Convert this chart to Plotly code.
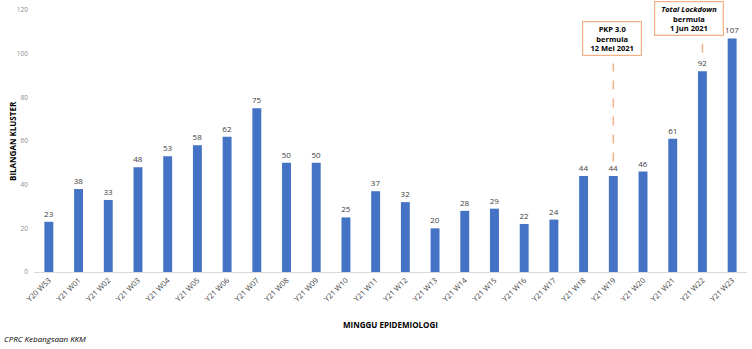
import plotly.graph_objects as go

weeks = ["Y20 W53", "Y21 W01", "Y21 W02", "Y21 W03", "Y21 W04", "Y21 W05", "Y21 W06",
         "Y21 W07", "Y21 W08", "Y21 W09", "Y21 W10", "Y21 W11", "Y21 W12", "Y21 W13",
         "Y21 W14", "Y21 W15", "Y21 W16", "Y21 W17", "Y21 W18", "Y21 W19", "Y21 W20",
         "Y21 W21", "Y21 W22", "Y21 W23"]
clusters = [23, 38, 33, 48, 53, 58, 62, 75, 50, 50, 25, 37, 32, 20, 28, 29, 22, 24,
            44, 44, 46, 61, 92, 107]
y_ticks = [0, 20, 40, 60, 80, 100, 120]

FONT = "Open Sans"
ORANGE = "#f4b183"

fig = go.Figure()
fig.add_trace(go.Bar(
    x=weeks, y=clusters,
    marker=dict(color="#4472c4", line=dict(width=0)),
    text=[str(v) for v in clusters], textposition="outside", constraintext="none",
    textfont=dict(family=FONT, size=8, color="#404040"),
    cliponaxis=False,
))

fig.update_layout(
    width=752, height=349,
    margin=dict(l=34, r=5, t=5, b=77),
    paper_bgcolor="white", plot_bgcolor="white",
    bargap=0.7,
    showlegend=False,
    font=dict(family=FONT),
    xaxis=dict(
        tickangle=-45, tickfont=dict(family=FONT, size=7.5, color="#404040"),
        showline=True, linecolor="#d9d9d9", linewidth=1, showgrid=False, ticks="",
    ),
    yaxis=dict(
        range=[0, 120], tickvals=y_ticks, showgrid=False, zeroline=False,
        tickfont=dict(family=FONT, size=6.5, color="#8c8c8c"), ticks="",
        ticklabelstandoff=5,
    ),
)

# axis titles and source
fig.add_annotation(text="<b>BILANGAN KLUSTER</b>", xref="paper", yref="paper",
                   x=-0.0309, y=0.5, showarrow=False, textangle=-90,
                   xanchor="center", yanchor="middle",
                   font=dict(family=FONT, size=8, color="#000000"))
fig.add_annotation(text="<b>MINGGU EPIDEMIOLOGI</b>", xref="paper", yref="paper",
                   x=0.5, y=-0.202, showarrow=False, yanchor="middle",
                   font=dict(family=FONT, size=8, color="#000000"))
fig.add_annotation(text="<i>CPRC Kebangsaan KKM</i>", xref="paper", yref="paper",
                   x=-0.0449, y=-0.2547, xanchor="left", yanchor="middle", showarrow=False,
                   font=dict(family=FONT, size=8, color="#000000"))

# event callouts
fig.add_shape(type="line", xref="x", yref="y", x0="Y21 W19", x1="Y21 W19", y0=50.6, y1=95.5,
              line=dict(color=ORANGE, width=1.5, dash="dash"))
fig.add_shape(type="line", xref="x", yref="y", x0="Y21 W22", x1="Y21 W22", y0=100.4, y1=105.4,
              line=dict(color=ORANGE, width=1.5, dash="dash"))

fig.add_annotation(text="<b>PKP 3.0<br>bermula<br>12 Mei 2021</b>", xref="x", yref="y",
                   x="Y21 W19", y=106.9, showarrow=False, xshift=-1,
                   width=56, height=31, borderpad=1, bordercolor=ORANGE, borderwidth=1.2,
                   bgcolor="white", align="center",
                   font=dict(family=FONT, size=7.5, color="#000000"))
fig.add_annotation(text="<b><i>Total Lockdown</i><br>bermula<br>1 Jun 2021</b>", xref="x", yref="y",
                   x="Y21 W22", y=116.0, showarrow=False, xshift=-13,
                   width=66, height=31, borderpad=1, bordercolor=ORANGE, borderwidth=1.2,
                   bgcolor="white", align="center",
                   font=dict(family=FONT, size=7.5, color="#000000"))

fig.write_html("out.html")
